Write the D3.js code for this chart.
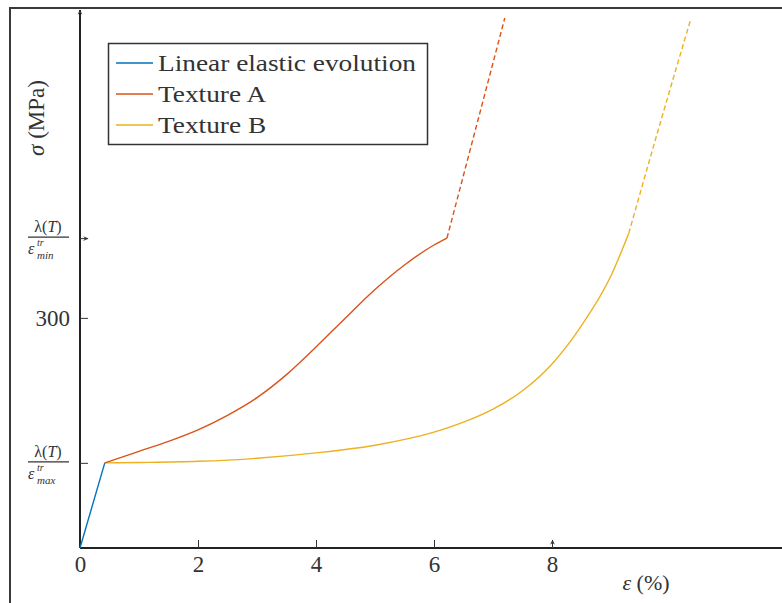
<!DOCTYPE html>
<html lang="en">
<head>
<meta charset="UTF-8">
<title>Stress strain</title>
<script src="https://d3js.org/d3.v7.min.js"></script>
<style>
  body { margin: 0; background: #fff; }
  text { font-family: "Liberation Serif", "DejaVu Serif", serif; fill: #333; }
</style>
</head>
<body>
<div id="chart"></div>
<script>
  // Data
  const elasticStrain = [0, 0.42];
  const elasticStress = [0, 111];

  const textureAStrain = [0.42, 1, 1.5, 2, 2.5, 3, 3.5, 4, 4.5, 5, 5.5, 6, 6.22];
  const textureAStress = [111, 126, 139, 154, 173, 196, 226, 262, 300, 337, 369, 395, 404];
  const textureADashStrain = [6.22, 7.2];
  const textureADashStress = [404, 691];

  const textureBStrain = [0.42, 1, 2, 3, 4, 5, 6, 6.5, 7, 7.5, 8, 8.5, 9, 9.3];
  const textureBStress = [111, 111.5, 113, 117, 124, 134, 151, 164, 181, 205, 240, 290, 355, 410];
  const textureBDashStrain = [9.3, 9.8, 10.35];
  const textureBDashStress = [410, 545, 689];

  const xTickValues = [0, 2, 4, 6, 8];
  const lambdaMax = 111;   // λ(T)/ε_max
  const lambdaMin = 404;   // λ(T)/ε_min
  const yTickValues = [lambdaMax, 300, lambdaMin];

  const legendNames = ["Linear elastic evolution", "Texture A", "Texture B"];
  const colors = ["#0072BD", "#D95319", "#EDB120"];

  const width = 782, height = 603;

  const svg = d3.select("#chart").append("svg")
    .attr("width", width)
    .attr("height", height);

  const x = d3.scaleLinear().domain([0, 12]).range([80, 788]);
  const y = d3.scaleLinear().domain([0, 704]).range([548, 8]);

  // outer frame (left + top only visible)
  svg.append("path")
    .attr("d", `M10,${height} V8 H${width}`)
    .attr("fill", "none")
    .attr("stroke", "#3a3a3a")
    .attr("stroke-width", 2);

  const defs = svg.append("defs");
  defs.append("marker")
    .attr("id", "arrow")
    .attr("viewBox", "0 0 10 10")
    .attr("refX", 8).attr("refY", 5)
    .attr("markerWidth", 6).attr("markerHeight", 6)
    .attr("markerUnits", "userSpaceOnUse")
    .attr("orient", "auto")
    .append("path")
    .attr("d", "M0,1 L9,5 L0,9 L3,5 Z")
    .attr("fill", "#333");

  // x axis
  const xAxis = svg.append("g")
    .attr("transform", `translate(0,${y(0)})`)
    .call(d3.axisBottom(x).tickValues(xTickValues).tickSizeInner(-8).tickSizeOuter(0).tickPadding(8));
  xAxis.select(".domain").attr("stroke", "#222").attr("stroke-width", 2)
    .attr("d", `M${x(0)},0H${width}`);
  xAxis.selectAll(".tick line").attr("stroke", "#333").attr("stroke-width", 1);
  xAxis.selectAll(".tick text").style("font-size", "23px").attr("fill", "#333");
  // tick at 8 is drawn with an arrow head
  xAxis.selectAll(".tick").filter(d => d === 8).select("line")
    .attr("marker-end", "url(#arrow)");

  // y axis
  const yAxis = svg.append("g")
    .attr("transform", `translate(${x(0)},0)`)
    .call(d3.axisLeft(y).tickValues(yTickValues).tickSizeInner(-8).tickSizeOuter(0).tickPadding(10)
      .tickFormat(d => d === 300 ? "300" : ""));
  yAxis.select(".domain").attr("stroke", "#222").attr("stroke-width", 2)
    .attr("d", `M0,${y(0)}V${y(704) + 2}`)
    .attr("marker-end", "url(#arrow)");
  yAxis.selectAll(".tick line").attr("stroke", "#333").attr("stroke-width", 1);
  yAxis.selectAll(".tick").filter(d => d === lambdaMin).select("line")
    .attr("marker-end", "url(#arrow)");
  yAxis.selectAll(".tick text").style("font-size", "23px").attr("fill", "#333");

  // fraction tick labels  λ(T) / ε^tr_sub
  function fraction(val, sub) {
    const g = svg.append("g").attr("transform", `translate(48,${y(val)})`);
    const num = g.append("text").attr("text-anchor", "middle").attr("y", -6)
      .style("font-size", "16px");
    num.append("tspan").text("λ(");
    num.append("tspan").attr("font-style", "italic").text("T");
    num.append("tspan").text(")");
    g.append("line").attr("x1", -20).attr("x2", 21).attr("y1", -1).attr("y2", -1)
      .attr("stroke", "#333").attr("stroke-width", 1.3);
    const den = g.append("text").attr("x", -20).attr("y", 16)
      .attr("font-style", "italic").style("font-size", "16px");
    den.append("tspan").text("ε");
    den.append("tspan").attr("x", -11).attr("y", 8).style("font-size", "10px").text("tr");
    den.append("tspan").attr("x", -11).attr("y", 21).style("font-size", "11px").text(sub);
  }
  fraction(lambdaMin, "min");
  fraction(lambdaMax, "max");

  // axis titles
  const yTitle = svg.append("text")
    .attr("transform", "translate(44,118) rotate(-90)")
    .attr("text-anchor", "middle")
    .style("font-size", "23px");
  yTitle.append("tspan").attr("font-style", "italic").text("σ");
  yTitle.append("tspan").text(" (MPa)");

  const xTitle = svg.append("text")
    .attr("x", 646).attr("y", 590)
    .attr("text-anchor", "middle")
    .style("font-size", "22px");
  xTitle.append("tspan").attr("font-style", "italic").text("ε");
  xTitle.append("tspan").text(" (%)");

  // curves
  const line = d3.line()
    .x(d => x(d[0]))
    .y(d => y(d[1]))
    .curve(d3.curveMonotoneX);
  const zip = (a, b) => a.map((v, i) => [v, b[i]]);

  const series = [
    { pts: zip(elasticStrain, elasticStress), color: colors[0], dash: null },
    { pts: zip(textureBStrain, textureBStress), color: colors[2], dash: null },
    { pts: zip(textureBDashStrain, textureBDashStress), color: colors[2], dash: "5,3" },
    { pts: zip(textureAStrain, textureAStress), color: colors[1], dash: null },
    { pts: zip(textureADashStrain, textureADashStress), color: colors[1], dash: "5,3" }
  ];
  svg.selectAll(".curve")
    .data(series)
    .join("path")
    .attr("class", "curve")
    .attr("d", d => line(d.pts))
    .attr("fill", "none")
    .attr("stroke", d => d.color)
    .attr("stroke-width", 1.4)
    .attr("stroke-dasharray", d => d.dash);

  // legend
  const legend = svg.append("g");
  legend.append("rect")
    .attr("x", 108.5).attr("y", 43.5)
    .attr("width", 319).attr("height", 101)
    .attr("fill", "#fff")
    .attr("stroke", "#333").attr("stroke-width", 1.5);
  const rows = legend.selectAll(".row")
    .data(legendNames)
    .join("g")
    .attr("class", "row")
    .attr("transform", (d, i) => `translate(0,${63 + i * 31})`);
  rows.append("line")
    .attr("x1", 116).attr("x2", 153)
    .attr("stroke", (d, i) => colors[i])
    .attr("stroke-width", 1.6);
  const legendText = rows.append("text")
    .attr("x", 158).attr("y", 8)
    .style("font-size", "24px")
    .text(d => d);
  // the original face is wider: stretch to the width seen in the picture
  const k = 258 / legendText.node().getComputedTextLength();
  legendText.each(function () {
    const w = this.getComputedTextLength();
    d3.select(this).attr("textLength", w * k).attr("lengthAdjust", "spacingAndGlyphs");
  });
</script>
</body>
</html>
